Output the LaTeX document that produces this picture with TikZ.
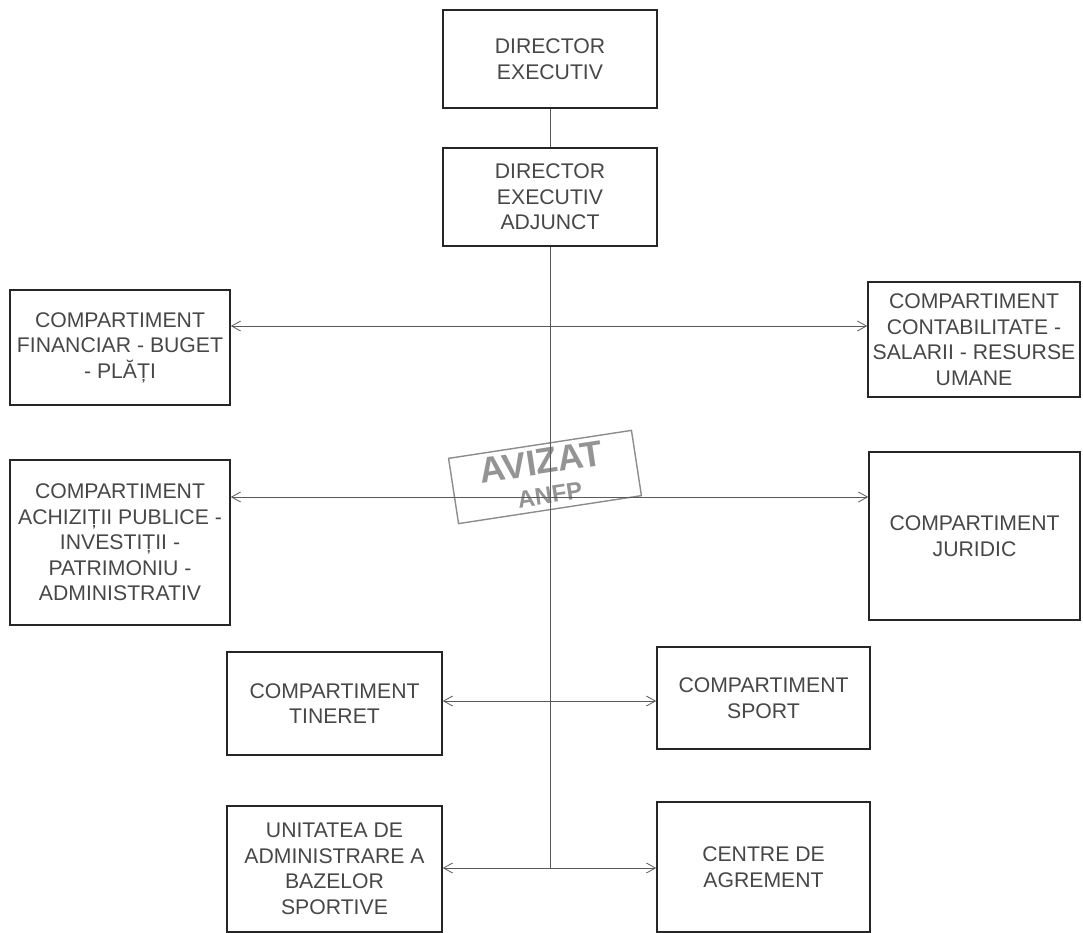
\documentclass[tikz,border=0pt]{standalone}
\usepackage{fontspec}
\setmainfont{Liberation Sans}
\usetikzlibrary{arrows.meta}
\begin{document}
\begin{tikzpicture}[x=1pt,y=-1pt,
  box/.style={draw=black!85, line width=1.6pt, inner sep=0pt, align=center,
    text=black!72, font=\fontsize{21.2}{25.5}\selectfont},
  conn/.style={draw=black!65, line width=0.8pt},
  biarrow/.style={conn, {Straight Barb[length=9pt,width=10pt]}-{Straight Barb[length=9pt,width=10pt]}},
  stampbox/.style={draw=black!45, line width=1.4pt, rotate=8.7, minimum width=185pt,
    minimum height=66pt, inner sep=0pt},
  stamptext/.style={rotate=8.7, inner sep=0pt, text=black!42, font=\bfseries}]
\useasboundingbox (0,0) rectangle (1083,933);

\node[box, minimum width=214pt, minimum height=98pt] (dir) at (550,59) {DIRECTOR\\EXECUTIV};
\node[box, minimum width=214pt, minimum height=98pt] (adj) at (550,197) {DIRECTOR\\EXECUTIV\\ADJUNCT};

\node[box, minimum width=220pt, minimum height=115pt] (fin) at (120,347.5) {COMPARTIMENT\\FINANCIAR - BUGET\\- PLĂȚI};
\node[box, minimum width=212pt, minimum height=115pt] (cont) at (974,339.5) {COMPARTIMENT\\CONTABILITATE -\\SALARII - RESURSE\\UMANE};

\node[box, minimum width=220pt, minimum height=165pt] (ach) at (120,542.5) {COMPARTIMENT\\ACHIZIȚII PUBLICE -\\INVESTIȚII -\\PATRIMONIU -\\ADMINISTRATIV};
\node[box, minimum width=211pt, minimum height=168pt] (jur) at (974.5,536) {COMPARTIMENT\\JURIDIC};

\node[box, minimum width=215pt, minimum height=103pt] (tin) at (334.5,703.5) {COMPARTIMENT\\TINERET};
\node[box, minimum width=213pt, minimum height=102pt] (sport) at (763.5,698) {COMPARTIMENT\\SPORT};

\node[box, minimum width=215pt, minimum height=126pt] (una) at (334.5,869) {UNITATEA DE\\ADMINISTRARE A\\BAZELOR\\SPORTIVE};
\node[box, minimum width=213pt, minimum height=130pt] (cen) at (763.5,867) {CENTRE DE\\AGREMENT};

% stamp
\node[stampbox] (stamp) at (545,477) {};
\node[stamptext, font=\fontsize{36}{36}\selectfont\bfseries] (avizat) at (541,462) {AVIZAT};
\node[stamptext, font=\fontsize{24}{24}\selectfont\bfseries] (anfp) at (550,495) {ANFP};

% connectors
\coordinate (bot) at (549,868);
\draw[conn] (dir.south) -- (adj.north);
\draw[conn] (adj.south) -- (adj.south |- bot);
\draw[biarrow] (fin.east |- 0,326) -- (cont.west |- 0,326);
\draw[biarrow] (ach.east |- 0,497) -- (jur.west |- 0,497);
\draw[biarrow] (tin.east |- 0,701) -- (sport.west |- 0,701);
\draw[biarrow] (una.east |- bot) -- (cen.west |- bot);
\end{tikzpicture}
\end{document}
